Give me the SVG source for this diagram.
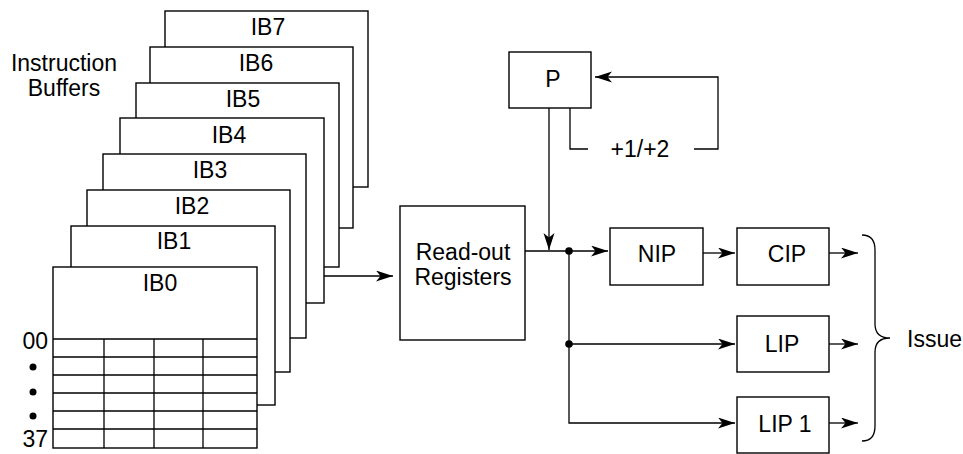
<svg xmlns="http://www.w3.org/2000/svg" width="963" height="454" viewBox="0 0 963 454">
  <defs>
    <marker id="arrow" markerUnits="userSpaceOnUse" markerWidth="19" markerHeight="12" refX="17" refY="5.5" orient="auto">
      <path d="M0,0 L17,5.5 L0,11 L4.5,5.5 z" fill="#000"/>
    </marker>
    <style>
      .box { fill: #fff; stroke: #000; stroke-width: 1.4; }
      .grid { fill: none; stroke: #000; stroke-width: 1.3; }
      .wire { fill: none; stroke: #000; stroke-width: 1.3; }
      .arw { fill: none; stroke: #000; stroke-width: 1.3; marker-end: url(#arrow); }
      .lbl { font-family: "Liberation Sans", Arial, sans-serif; font-size: 23px; fill: #000; text-anchor: middle; }
      .lblr { font-family: "Liberation Sans", Arial, sans-serif; font-size: 23px; fill: #000; text-anchor: end; }
      .lbll { font-family: "Liberation Sans", Arial, sans-serif; font-size: 23px; fill: #000; text-anchor: start; }
    </style>
  </defs>

  <rect width="963" height="454" fill="#fff"/>

  <!-- Title of the buffer stack -->
  <g id="title">
    <text class="lbl" x="64" y="71">Instruction</text>
    <text class="lbl" x="64" y="96">Buffers</text>
  </g>

  <!-- Instruction buffer stack, drawn back to front -->
  <g id="ib7"><rect class="box" x="165" y="11" width="203" height="176"/><text class="lbl" x="268" y="35">IB7</text></g>
  <g id="ib6"><rect class="box" x="150" y="47" width="203" height="181"/><text class="lbl" x="256" y="71">IB6</text></g>
  <g id="ib5"><rect class="box" x="136" y="83" width="203" height="184"/><text class="lbl" x="243" y="107">IB5</text></g>
  <g id="ib4"><rect class="box" x="120" y="118" width="204" height="185"/><text class="lbl" x="229" y="143">IB4</text></g>
  <g id="ib3"><rect class="box" x="103" y="154" width="203" height="184"/><text class="lbl" x="210" y="178">IB3</text></g>
  <g id="ib2"><rect class="box" x="87" y="190" width="203" height="182"/><text class="lbl" x="192" y="214">IB2</text></g>
  <g id="ib1"><rect class="box" x="71" y="226" width="204" height="179"/><text class="lbl" x="174" y="249">IB1</text></g>
  <g id="ib0">
    <rect class="box" x="53" y="267" width="204" height="181"/>
    <text class="lbl" x="160" y="291">IB0</text>
    <path class="grid" d="M53,339 H257 M53,357 H257 M53,375 H257 M53,393 H257 M53,411 H257 M53,429 H257 M104,339 V448 M154,339 V448 M203,339 V448"/>
    <text class="lblr" x="48" y="349">00</text>
    <circle cx="33" cy="367" r="3.5" fill="#000"/>
    <circle cx="33" cy="392" r="3.5" fill="#000"/>
    <circle cx="33" cy="416" r="3.5" fill="#000"/>
    <text class="lblr" x="48" y="447">37</text>
  </g>

  <!-- Register and pointer blocks -->
  <g id="readout">
    <rect class="box" x="400" y="206" width="125" height="134"/>
    <text class="lbl" x="463" y="260">Read-out</text>
    <text class="lbl" x="463" y="285">Registers</text>
  </g>
  <g id="p">
    <rect class="box" x="509" y="52" width="82" height="56"/>
    <text class="lbl" x="553" y="87">P</text>
  </g>
  <g id="nip">
    <rect class="box" x="610" y="228" width="93" height="57"/>
    <text class="lbl" x="657" y="262">NIP</text>
  </g>
  <g id="cip">
    <rect class="box" x="737" y="228" width="92" height="57"/>
    <text class="lbl" x="787" y="262">CIP</text>
  </g>
  <g id="lip">
    <rect class="box" x="737" y="316" width="92" height="56"/>
    <text class="lbl" x="782" y="352">LIP</text>
  </g>
  <g id="lip1">
    <rect class="box" x="737" y="397" width="92" height="56"/>
    <text class="lbl" x="785" y="432">LIP 1</text>
  </g>
  <g id="issue">
    <path class="wire" d="M862,235 Q875,235 875,250 V324 Q875,338 890,338 Q875,338 875,352 V426 Q875,441 862,441"/>
    <text class="lbll" x="907" y="347">Issue</text>
  </g>

  <!-- Connectors -->
  <g id="connectors">
    <line class="arw" x1="324" y1="276" x2="393" y2="276"/>
    <line class="arw" x1="549" y1="108" x2="549" y2="250"/>
    <line class="arw" x1="525" y1="251" x2="608" y2="251"/>
    <path class="wire" d="M570,108 V149 H588"/>
    <text class="lbl" x="640" y="157">+1/+2</text>
    <path class="arw" d="M694,149 H718 V77 H595"/>
    <circle cx="569" cy="251" r="3.8" fill="#000"/>
    <path class="arw" d="M569,251 V344 H735"/>
    <path class="arw" d="M569,344 V423 H735"/>
    <circle cx="569" cy="344" r="3.8" fill="#000"/>
    <line class="arw" x1="703" y1="253" x2="735" y2="253"/>
    <line class="arw" x1="829" y1="253" x2="858" y2="253"/>
    <line class="arw" x1="829" y1="344" x2="858" y2="344"/>
    <line class="arw" x1="829" y1="423" x2="858" y2="423"/>
  </g>
</svg>
